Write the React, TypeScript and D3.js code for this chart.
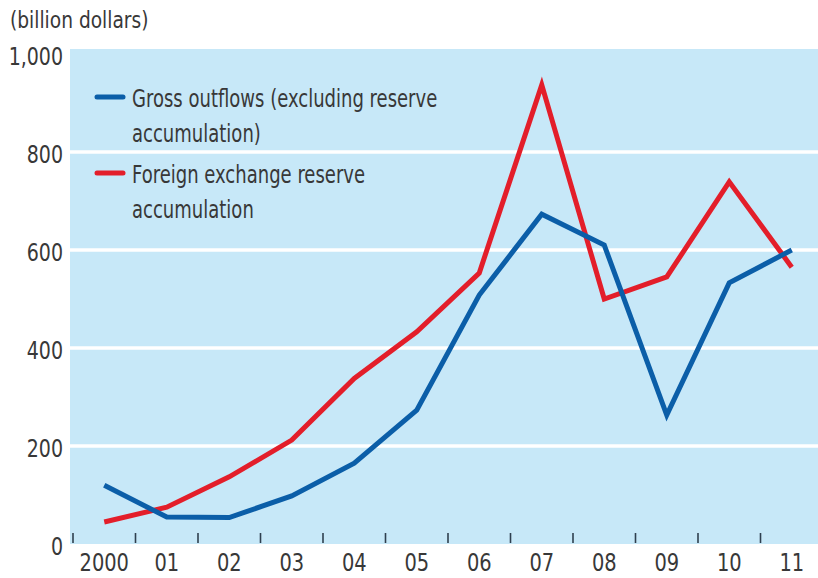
import React from "react";
import * as d3 from "d3";

const years = ["2000", "01", "02", "03", "04", "05", "06", "07", "08", "09", "10", "11"];
const grossOutflows = [120, 55, 54, 98, 165, 273, 508, 673, 610, 263, 533, 600];
const reserveAccum = [45, 75, 137, 212, 338, 433, 553, 937, 500, 545, 739, 565];
const yTicks = [0, 200, 400, 600, 800, 1000];
const yTickLabels = ["0", "200", "400", "600", "800", "1,000"];
const legendItems = [
  { lines: ["Gross outflows (excluding reserve", "accumulation)"], color: "#0b5ea8" },
  { lines: ["Foreign exchange reserve", "accumulation"], color: "#e31e2a" },
];

const W = 818;
const H = 578;
const FONT = "'DejaVu Sans Condensed', 'DejaVu Sans', sans-serif";
const TEXT = "#383838";

function CText(props: {
  x: number;
  y: number;
  sx: number;
  size: number;
  anchor?: string;
  dy?: string;
  children: React.ReactNode;
}) {
  return (
    <g transform={`translate(${props.x},${props.y}) scale(${props.sx},1)`}>
      <text
        x={0}
        y={0}
        dy={props.dy}
        textAnchor={props.anchor || "start"}
        fontFamily={FONT}
        fontSize={props.size}
        fill={TEXT}
      >
        {props.children}
      </text>
    </g>
  );
}

export default function App() {
  const x = d3.scaleBand<string>().domain(years).range([73, 823]);
  const y = d3.scaleLinear().domain([0, 1000]).range([544, 54]);
  const cx = (d: string) => (x(d) as number) + x.bandwidth() / 2;

  const line = d3
    .line<number>()
    .x((_, i) => cx(years[i]))
    .y((v) => y(v));

  const plotLeft = 70;
  const plotTop = y(1000) - 5;
  const plotBottom = y(0);

  return (
    <div style={{ position: "absolute", left: 0, top: 0 }}>
      <svg width={W} height={H} style={{ display: "block", background: "#fff" }}>
        <rect x={plotLeft} y={plotTop} width={W - plotLeft} height={plotBottom - plotTop} fill="#c7e8f8" />
        {yTicks
          .filter((t) => t > 0 && t < 1000)
          .map((t) => (
            <line key={t} x1={plotLeft} x2={W} y1={y(t)} y2={y(t)} stroke="#fff" strokeWidth={3.5} />
          ))}
        {years.map((yr) => (
          <line
            key={"t" + yr}
            x1={x(yr) as number}
            x2={x(yr) as number}
            y1={plotBottom - 11}
            y2={plotBottom - 1}
            stroke="#2f3f4f"
            strokeWidth={1.6}
          />
        ))}
        {yTicks.map((t, i) => (
          <CText key={"yl" + t} x={63} y={y(t) + 3} dy="0.35em" anchor="end" size={24} sx={0.88}>
            {yTickLabels[i]}
          </CText>
        ))}
        {years.map((yr) => (
          <CText key={"xl" + yr} x={cx(yr)} y={571} anchor="middle" size={24} sx={0.9}>
            {yr}
          </CText>
        ))}
        <CText x={10} y={28} size={23} sx={0.9}>
          (billion dollars)
        </CText>
        <path d={line(reserveAccum) || ""} fill="none" stroke="#e31e2a" strokeWidth={5} strokeLinejoin="miter" />
        <path d={line(grossOutflows) || ""} fill="none" stroke="#0b5ea8" strokeWidth={5} strokeLinejoin="miter" />
        {legendItems.map((it, i) => {
          const ly = 97 + i * 76;
          return (
            <g key={"lg" + i}>
              <line x1={97} x2={123} y1={ly} y2={ly} stroke={it.color} strokeWidth={5} strokeLinecap="round" />
              {it.lines.map((s, j) => (
                <CText key={j} x={132} y={ly + 10 + j * 35} size={24} sx={0.835}>
                  {s}
                </CText>
              ))}
            </g>
          );
        })}
      </svg>
    </div>
  );
}
